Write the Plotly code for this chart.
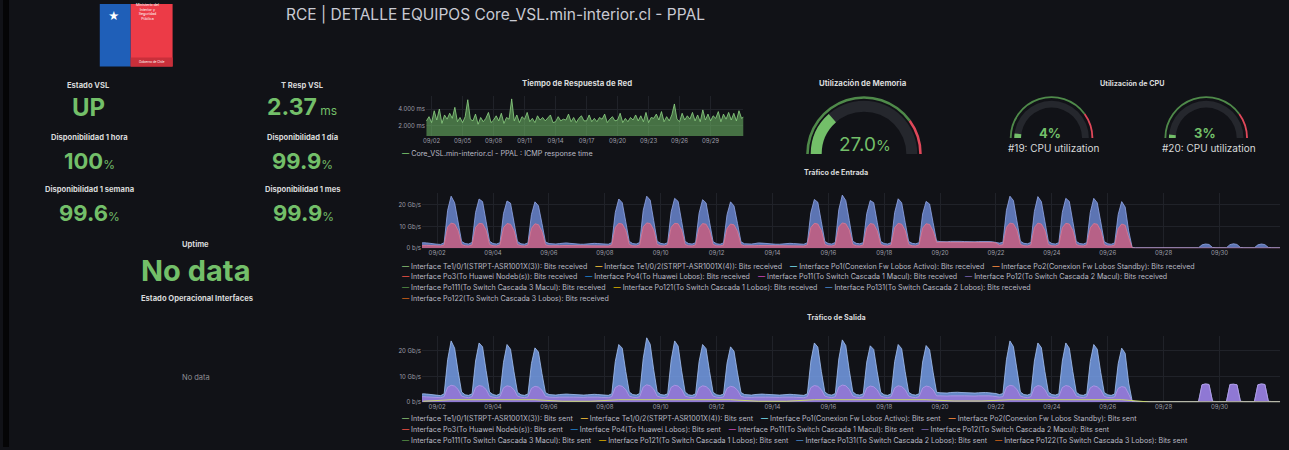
import pandas as pd
import plotly.graph_objects as go

W, H = 1289, 450
FONT = "Inter"
BG = "#111217"
GREEN = "#73BF69"
RED = "#E0485A"

# ------------------------------------------------------------------ data
stat_titles = ["Estado VSL", "T Resp VSL", "Disponibilidad 1 hora", "Disponibilidad 1 día",
               "Disponibilidad 1 semana", "Disponibilidad 1 mes", "Uptime"]
stat_values = ["UP", "2.37", "100", "99.9", "99.6", "99.9", "No data"]
stat_units = ["", "ms", "%", "%", "%", "%", ""]

mem_used_pct = 27.0
cpu_names = ["#19: CPU utilization", "#20: CPU utilization"]
cpu_pct = [4, 3]

# ICMP response time (ms), every 6 h from 09/01 12:00
resp_ms = [2.6, 3.1,
           2.4, 3.8, 2.7, 4.0,  2.3, 3.3, 2.8, 3.5,  2.9, 4.2, 2.5, 3.0,  2.4, 3.1, 5.1, 2.8,
           2.6, 3.4, 2.2, 3.0,  2.5, 2.9, 3.6, 2.4,  2.7, 3.2, 2.6, 3.5,  2.3, 3.0, 2.8, 5.2,
           2.6, 3.3, 2.4, 3.1,  2.8, 3.6, 2.5, 2.9,  2.4, 3.2, 2.7, 3.0,  2.6, 2.9, 3.3, 2.4,
           2.5, 3.1, 2.6, 2.8,  2.7, 3.4, 2.5, 3.0,  2.4, 2.9, 3.2, 2.6,  2.6, 3.3, 2.5, 2.9,
           2.5, 3.0, 2.8, 3.4,  2.4, 2.8, 3.1, 2.6,  2.7, 3.5, 2.4, 2.9,  2.5, 3.0, 2.7, 3.3,
           2.6, 3.2, 2.5, 3.6,  2.4, 3.0, 2.9, 3.4,  2.7, 3.7, 2.5, 3.1,  2.6, 3.3, 4.6, 2.8,
           2.5, 3.5, 2.7, 3.2,  2.8, 3.6, 2.6, 3.3,  2.5, 3.9, 2.7, 3.4,  2.6, 3.2, 2.9, 3.7,
           2.5, 3.4, 2.8, 3.6,  2.7, 3.5, 2.6, 3.8,
           2.9, 3.1]
resp_times = pd.date_range("2025-09-01 12:00", periods=len(resp_ms), freq="6h")

# Traffic (Gb/s), one row per day 09/01 .. 10/02, samples at 00,03,...,21 h
in_total_rows = [
    [2.0, 1.9, 1.9, 2.3, 2.6, 2.5, 2.2, 2.0],
    [1.9, 1.8, 2.6, 17.5, 24.0, 21.0, 12.0, 3.2],
    [2.2, 2.0, 2.7, 16.5, 22.7, 21.5, 12.5, 3.3],
    [2.2, 2.0, 2.6, 16.0, 21.8, 20.8, 12.0, 3.2],
    [2.1, 1.9, 2.5, 15.5, 21.4, 19.6, 11.5, 3.0],
    [2.2, 2.0, 2.0, 2.2, 2.4, 2.5, 2.3, 2.1],
    [2.0, 1.9, 1.9, 2.1, 2.3, 2.3, 2.2, 2.1],
    [2.0, 1.9, 2.6, 16.5, 22.7, 21.0, 12.2, 3.2],
    [2.2, 2.0, 2.7, 17.5, 24.0, 22.2, 12.8, 3.3],
    [2.3, 2.0, 2.6, 16.8, 23.0, 21.6, 12.4, 3.2],
    [2.2, 2.0, 2.6, 16.2, 22.4, 20.9, 12.0, 3.1],
    [2.1, 1.9, 2.5, 15.5, 21.4, 19.5, 11.4, 3.0],
    [2.1, 2.0, 2.0, 2.2, 2.5, 2.4, 2.2, 2.1],
    [2.0, 1.9, 1.9, 2.1, 2.3, 2.3, 2.2, 2.1],
    [2.0, 1.9, 2.6, 16.5, 22.5, 21.2, 12.2, 3.2],
    [2.2, 2.0, 2.7, 17.8, 24.5, 22.0, 12.8, 3.3],
    [2.3, 2.1, 2.6, 16.0, 22.0, 21.0, 12.0, 3.2],
    [2.2, 2.0, 2.6, 16.5, 22.8, 21.0, 12.0, 3.2],
    [2.3, 2.1, 2.6, 15.8, 21.6, 20.4, 11.8, 3.4],
    [3.1, 3.0, 3.0, 3.2, 3.3, 3.3, 3.2, 3.1],
    [3.0, 3.0, 3.0, 3.1, 3.2, 3.2, 3.1, 3.0],
    [2.8, 2.4, 2.8, 17.5, 24.0, 22.0, 12.6, 3.3],
    [2.3, 2.1, 2.7, 17.0, 23.8, 21.5, 12.5, 3.3],
    [2.2, 2.0, 2.6, 16.6, 23.0, 21.6, 12.4, 3.2],
    [2.2, 2.0, 2.6, 16.5, 23.0, 21.0, 12.2, 3.1],
    [2.1, 1.9, 2.5, 15.6, 21.5, 19.0, 8.0, 0.4],
    [0.3, 0.3, 0.3, 0.3, 0.3, 0.3, 0.3, 0.3],
    [0.3, 0.3, 0.3, 0.3, 0.3, 0.3, 0.3, 0.3],
    [0.3, 0.3, 0.3, 1.6, 2.0, 1.8, 0.4, 0.3],
    [0.3, 0.3, 0.3, 1.7, 2.1, 1.8, 0.4, 0.3],
    [0.3, 0.3, 0.3, 1.6, 2.0, 1.7, 0.4, 0.3],
    [0.3, 0.3, 0.3, 0.3, 0.3, 0.3, 0.3, 0.3],
]
in_lower_rows = [
    [1.2, 1.1, 1.1, 1.3, 1.5, 1.4, 1.3, 1.2],
    [1.1, 1.1, 1.6, 9.8, 11.6, 11.2, 8.2, 1.8],
    [1.2, 1.1, 1.6, 9.6, 11.5, 11.3, 8.4, 1.8],
    [1.2, 1.1, 1.6, 9.5, 11.4, 11.1, 8.2, 1.8],
    [1.2, 1.1, 1.5, 9.2, 11.3, 10.9, 7.8, 1.7],
    [1.2, 1.1, 1.1, 1.2, 1.3, 1.3, 1.2, 1.2],
    [1.1, 1.1, 1.1, 1.2, 1.3, 1.3, 1.2, 1.2],
    [1.1, 1.1, 1.6, 9.6, 11.5, 11.2, 8.3, 1.8],
    [1.2, 1.1, 1.6, 9.9, 11.7, 11.4, 8.5, 1.8],
    [1.2, 1.1, 1.6, 9.7, 11.5, 11.3, 8.4, 1.8],
    [1.2, 1.1, 1.6, 9.5, 11.4, 11.1, 8.2, 1.8],
    [1.2, 1.1, 1.5, 9.1, 11.2, 10.8, 7.8, 1.7],
    [1.2, 1.1, 1.1, 1.2, 1.3, 1.3, 1.2, 1.2],
    [1.1, 1.1, 1.1, 1.2, 1.3, 1.3, 1.2, 1.2],
    [1.1, 1.1, 1.6, 9.6, 11.5, 11.2, 8.3, 1.8],
    [1.2, 1.1, 1.6, 9.9, 11.7, 11.3, 8.5, 1.8],
    [1.2, 1.1, 1.6, 9.4, 11.4, 11.1, 8.1, 1.8],
    [1.2, 1.1, 1.6, 9.5, 11.5, 11.1, 8.2, 1.8],
    [1.2, 1.1, 1.6, 9.3, 11.3, 11.0, 8.0, 2.7],
    [2.8, 2.8, 2.8, 2.9, 3.0, 3.0, 2.9, 2.8],
    [2.8, 2.8, 2.8, 2.9, 2.9, 2.9, 2.8, 2.7],
    [2.5, 1.4, 1.7, 9.7, 11.6, 11.3, 8.4, 1.8],
    [1.2, 1.1, 1.6, 9.6, 11.6, 11.2, 8.3, 1.8],
    [1.2, 1.1, 1.6, 9.5, 11.5, 11.2, 8.3, 1.8],
    [1.2, 1.1, 1.6, 9.4, 11.4, 11.1, 8.2, 1.7],
    [1.1, 1.1, 1.5, 9.1, 11.2, 10.6, 5.0, 0.2],
    [0.1, 0.1, 0.1, 0.1, 0.1, 0.1, 0.1, 0.1],
    [0.1, 0.1, 0.1, 0.1, 0.1, 0.1, 0.1, 0.1],
    [0.1, 0.1, 0.1, 0.2, 0.3, 0.2, 0.1, 0.1],
    [0.1, 0.1, 0.1, 0.2, 0.3, 0.2, 0.1, 0.1],
    [0.1, 0.1, 0.1, 0.2, 0.3, 0.2, 0.1, 0.1],
    [0.1, 0.1, 0.1, 0.1, 0.1, 0.1, 0.1, 0.1],
]
out_total_rows = [
    [2.9, 2.8, 2.8, 3.0, 3.3, 3.2, 3.0, 2.9],
    [2.8, 2.6, 3.3, 16.5, 23.8, 21.0, 12.0, 4.0],
    [2.9, 2.7, 3.3, 16.0, 23.0, 21.5, 12.4, 4.0],
    [3.0, 2.7, 3.3, 15.5, 22.4, 20.6, 11.8, 3.9],
    [2.9, 2.7, 3.2, 15.0, 21.1, 19.5, 11.2, 3.8],
    [3.0, 2.8, 2.8, 3.0, 3.2, 3.2, 3.1, 3.0],
    [2.9, 2.8, 2.8, 2.9, 3.1, 3.1, 3.0, 2.9],
    [2.8, 2.7, 3.3, 15.8, 22.4, 21.0, 12.0, 4.0],
    [3.0, 2.8, 3.4, 17.0, 25.0, 22.5, 12.6, 4.1],
    [3.0, 2.8, 3.3, 16.4, 23.8, 21.8, 12.2, 4.0],
    [2.9, 2.7, 3.3, 15.8, 22.4, 20.8, 11.9, 3.9],
    [2.9, 2.7, 3.2, 15.2, 21.5, 19.8, 11.4, 3.8],
    [3.0, 2.8, 2.8, 3.0, 3.2, 3.2, 3.1, 3.0],
    [2.9, 2.8, 2.8, 2.9, 3.1, 3.1, 3.0, 2.9],
    [2.8, 2.7, 3.3, 16.0, 23.0, 21.4, 12.0, 4.0],
    [3.0, 2.8, 3.4, 16.8, 24.2, 22.0, 12.4, 4.1],
    [3.0, 2.8, 3.3, 15.6, 21.9, 20.5, 11.8, 3.9],
    [2.9, 2.7, 3.3, 15.8, 22.4, 20.8, 11.9, 3.9],
    [3.0, 2.8, 3.3, 15.6, 22.0, 20.4, 11.7, 3.9],
    [3.7, 3.6, 3.6, 3.8, 3.9, 3.9, 3.8, 3.7],
    [3.6, 3.6, 3.6, 3.7, 3.8, 3.8, 3.7, 3.6],
    [3.4, 3.0, 3.4, 16.5, 23.8, 21.6, 12.2, 4.0],
    [3.0, 2.8, 3.3, 16.0, 23.0, 21.2, 12.0, 4.0],
    [3.0, 2.8, 3.3, 16.0, 23.0, 21.0, 12.0, 3.9],
    [2.9, 2.7, 3.3, 15.8, 22.4, 20.6, 11.6, 3.8],
    [2.9, 2.7, 3.2, 15.0, 21.0, 19.0, 7.5, 0.5],
    [0.3, 0.3, 0.3, 0.3, 0.3, 0.3, 0.3, 0.3],
    [0.3, 0.3, 0.3, 0.3, 0.3, 0.3, 0.3, 0.3],
    [0.3, 0.3, 0.3, 6.8, 7.1, 6.9, 0.4, 0.3],
    [0.3, 0.3, 0.3, 6.9, 7.0, 6.8, 0.4, 0.3],
    [0.3, 0.3, 0.3, 6.8, 7.1, 6.9, 0.4, 0.3],
    [0.3, 0.3, 0.3, 0.3, 0.3, 0.3, 0.3, 0.3],
]
out_lower_rows = [
    [2.0, 1.9, 1.9, 2.0, 2.2, 2.1, 2.0, 2.0],
    [1.9, 1.8, 2.2, 5.8, 6.6, 6.3, 5.0, 2.4],
    [2.0, 1.8, 2.2, 5.7, 6.5, 6.2, 5.0, 2.4],
    [2.0, 1.8, 2.2, 5.6, 6.4, 6.1, 4.9, 2.4],
    [2.0, 1.8, 2.1, 5.4, 6.2, 5.9, 4.7, 2.3],
    [2.0, 1.9, 1.9, 2.0, 2.1, 2.1, 2.0, 2.0],
    [1.9, 1.9, 1.9, 2.0, 2.1, 2.1, 2.0, 1.9],
    [1.9, 1.8, 2.2, 5.7, 6.5, 6.2, 4.9, 2.4],
    [2.0, 1.8, 2.2, 5.9, 6.8, 6.4, 5.1, 2.4],
    [2.0, 1.8, 2.2, 5.8, 6.6, 6.3, 5.0, 2.4],
    [2.0, 1.8, 2.2, 5.6, 6.4, 6.1, 4.9, 2.4],
    [2.0, 1.8, 2.1, 5.4, 6.2, 5.9, 4.7, 2.3],
    [2.0, 1.9, 1.9, 2.0, 2.1, 2.1, 2.0, 2.0],
    [1.9, 1.9, 1.9, 2.0, 2.1, 2.1, 2.0, 1.9],
    [1.9, 1.8, 2.2, 5.7, 6.5, 6.2, 4.9, 2.4],
    [2.0, 1.8, 2.2, 5.9, 6.7, 6.4, 5.0, 2.4],
    [2.0, 1.8, 2.2, 5.5, 6.3, 6.0, 4.8, 2.4],
    [2.0, 1.8, 2.2, 5.6, 6.4, 6.1, 4.9, 2.4],
    [2.0, 1.8, 2.2, 5.5, 6.3, 6.0, 4.8, 2.5],
    [2.5, 2.4, 2.4, 2.5, 2.6, 2.6, 2.5, 2.5],
    [2.4, 2.4, 2.4, 2.5, 2.6, 2.6, 2.5, 2.4],
    [2.3, 2.0, 2.2, 5.8, 6.6, 6.3, 5.0, 2.4],
    [2.0, 1.8, 2.2, 5.7, 6.5, 6.2, 4.9, 2.4],
    [2.0, 1.8, 2.2, 5.7, 6.5, 6.2, 4.9, 2.4],
    [2.0, 1.8, 2.2, 5.6, 6.4, 6.0, 4.8, 2.3],
    [1.9, 1.8, 2.1, 5.4, 6.1, 5.8, 3.2, 0.3],
    [0.2, 0.2, 0.2, 0.2, 0.2, 0.2, 0.2, 0.2],
    [0.2, 0.2, 0.2, 0.2, 0.2, 0.2, 0.2, 0.2],
    [0.2, 0.2, 0.2, 6.8, 7.1, 6.9, 0.3, 0.2],
    [0.2, 0.2, 0.2, 6.9, 7.0, 6.8, 0.3, 0.2],
    [0.2, 0.2, 0.2, 6.8, 7.1, 6.9, 0.3, 0.2],
    [0.2, 0.2, 0.2, 0.2, 0.2, 0.2, 0.2, 0.2],
]
# small link on the bottom of "Salida", one value per day at noon
out_small_daily = [0.4, 1.0, 1.0, 1.0, 1.0, 0.4, 0.4, 1.0, 1.0, 1.0, 1.0, 1.0, 0.4, 0.4,
                   1.0, 1.0, 1.0, 1.0, 1.0, 0.5, 0.5, 1.0, 1.0, 1.0, 1.0, 1.0, 0.1, 0.1,
                   0.2, 0.2, 0.2, 0.1]

traffic_times = pd.date_range("2025-09-01 00:00", periods=32 * 8, freq="3h")
daily_noon = pd.date_range("2025-09-01 12:00", periods=32, freq="D")
traffic_ticks = pd.date_range("2025-09-02", "2025-09-30", freq="2D")
resp_ticks = pd.date_range("2025-09-02", "2025-09-29", freq="3D")

in_names = [
    "Interface Te1/0/1(STRPT-ASR1001X(3)): Bits received",
    "Interface Te1/0/2(STRPT-ASR1001X(4)): Bits received",
    "Interface Po1(Conexion Fw Lobos Activo): Bits received",
    "Interface Po2(Conexion Fw Lobos Standby): Bits received",
    "Interface Po3(To Huawei Nodeb(s)): Bits received",
    "Interface Po4(To Huawei Lobos): Bits received",
    "Interface Po11(To Switch Cascada 1 Macul): Bits received",
    "Interface Po12(To Switch Cascada 2 Macul): Bits received",
    "Interface Po111(To Switch Cascada 3 Macul): Bits received",
    "Interface Po121(To Switch Cascada 1 Lobos): Bits received",
    "Interface Po131(To Switch Cascada 2 Lobos): Bits received",
    "Interface Po122(To Switch Cascada 3 Lobos): Bits received",
]
out_names = [n.replace("Bits received", "Bits sent") for n in in_names]
legend_colors = ["#7EB26D", "#EAB839", "#6ED0E0", "#EF843C", "#E24D42", "#1F78C1",
                 "#BA43A9", "#705DA0", "#508642", "#CCA300", "#447EBC", "#C15C17"]
in_legend_rows = [[0, 1, 2, 3], [4, 5, 6, 7], [8, 9, 10], [11]]
out_legend_rows = [[0, 1, 2, 3], [4, 5, 6, 7], [8, 9, 10, 11]]


def flat(rows):
    return [v for r in rows for v in r]


# ------------------------------------------------------------------ helpers
def X(px):
    return px / W


def Y(py):
    return 1 - py / H


annotations = []


def txt(x, y, s, size, color="#d8d9da", xanchor="center", family=FONT):
    annotations.append(dict(x=X(x), y=Y(y), xref="paper", yref="paper", text=s,
                            showarrow=False, xanchor=xanchor, yanchor="middle",
                            font=dict(size=size, color=color, family=family)))


fig = go.Figure()

T_RANGE = ["2025-09-01 11:00", "2025-10-02 04:00"]

# ---- response time panel
fig.add_trace(go.Scatter(x=resp_times, y=resp_ms, mode="lines",
                         line=dict(color="#8fd685", width=0.8),
                         fill="tozeroy", fillcolor="rgba(115,191,105,0.55)",
                         xaxis="x", yaxis="y", showlegend=False))

# ---- entrada
fig.add_trace(go.Scatter(x=traffic_times, y=flat(in_total_rows), mode="lines",
                         line=dict(color="#93a8ea", width=0.8),
                         fill="tozeroy", fillcolor="rgba(108,138,214,0.82)",
                         xaxis="x2", yaxis="y2", showlegend=False))
fig.add_trace(go.Scatter(x=traffic_times, y=flat(in_lower_rows), mode="lines",
                         line=dict(color="#e07a92", width=0.8),
                         fill="tozeroy", fillcolor="rgba(206,92,124,0.80)",
                         xaxis="x2", yaxis="y2", showlegend=False))

# ---- salida
fig.add_trace(go.Scatter(x=traffic_times, y=flat(out_total_rows), mode="lines",
                         line=dict(color="#a4c2f4", width=0.8),
                         fill="tozeroy", fillcolor="rgba(118,158,232,0.85)",
                         xaxis="x3", yaxis="y3", showlegend=False))
fig.add_trace(go.Scatter(x=traffic_times, y=flat(out_lower_rows), mode="lines",
                         line=dict(color="#b59ae8", width=0.8),
                         fill="tozeroy", fillcolor="rgba(150,118,214,0.85)",
                         xaxis="x3", yaxis="y3", showlegend=False))
fig.add_trace(go.Scatter(x=daily_noon, y=out_small_daily, mode="lines",
                         line=dict(color="#c9d86a", width=1),
                         xaxis="x3", yaxis="y3", showlegend=False))


# ---- gauges
def gauge(cx, cy, r_ring, r_band, value, band_th):
    fig.add_trace(go.Indicator(
        mode="gauge", value=value,
        domain=dict(x=[X(cx - r_ring), X(cx + r_ring)], y=[Y(cy), Y(cy - r_ring)]),
        gauge=dict(shape="angular", axis=dict(range=[0, 100], visible=False),
                   bar=dict(color="rgba(0,0,0,0)", thickness=0),
                   bgcolor="rgba(0,0,0,0)", borderwidth=0,
                   steps=[dict(range=[0, 80], color="#4f8a4a", thickness=0.16),
                          dict(range=[80, 100], color=RED, thickness=0.16)])))
    fig.add_trace(go.Indicator(
        mode="gauge", value=value,
        domain=dict(x=[X(cx - r_band), X(cx + r_band)], y=[Y(cy), Y(cy - r_band)]),
        gauge=dict(shape="angular", axis=dict(range=[0, 100], visible=False),
                   bar=dict(color=GREEN, thickness=band_th),
                   bgcolor="rgba(0,0,0,0)", borderwidth=0,
                   steps=[dict(range=[0, 100], color="#25272d", thickness=band_th)])))


gauge(863, 155, 65, 55, mem_used_pct, 0.8)
gauge(1051, 139, 47, 39, cpu_pct[0], 0.7)
gauge(1206, 139, 47, 39, cpu_pct[1], 0.7)

# ------------------------------------------------------------------ text
txt(494, 15, "RCE | DETALLE EQUIPOS Core_VSL.min-interior.cl - PPAL", 15.5, "#c9cad3")

stat_pos = [(86, 86, 108), (300, 86, 108), (87, 138, 162), (300, 138, 162),
            (87, 191, 214), (301, 191, 214), (193, 246, 272)]
stat_sizes = [24, 23, 22, 22, 22, 22, 29]
for (sx, ty, vy), t, v, u, s in zip(stat_pos, stat_titles, stat_values, stat_units, stat_sizes):
    txt(sx, ty, "<b>" + t + "</b>", 7.6, "#d8d9da")
    unit = "" if not u else "<span style='font-size:%dpx'>%s%s</span>" % (int(s * 0.55), " " if u == "ms" else "", u)
    txt(sx, vy, "<b>" + v + "</b>" + unit, s, GREEN)

txt(194, 300, "<b>Estado Operacional Interfaces</b>", 7.6, "#d8d9da")
txt(193, 380, "No data", 7.5, "#8e8e95")

txt(575, 84, "<b>Tiempo de Respuesta de Red</b>", 7.8, "#d8d9da")
txt(862, 84, "<b>Utilización de Memoria</b>", 7.8, "#d8d9da")
txt(1132, 84, "<b>Utilización de CPU</b>", 7.2, "#d8d9da")
txt(835, 174, "<b>Tráfico de Entrada</b>", 7.2, "#d8d9da")
txt(835, 320, "<b>Tráfico de Salida</b>", 7.2, "#d8d9da")

txt(864, 145, "%.1f<span style='font-size:15px'>%%</span>" % mem_used_pct, 19, GREEN)
for cx, v, n in zip([1049, 1205], cpu_pct, cpu_names):
    txt(cx, 134, "<b>%d%%</b>" % v, 13, GREEN)
    txt(cx + 4, 149, n, 10, "#d8d9da")

txt(398, 155, "<span style='color:%s'><b>—</b></span> Core_VSL.min-interior.cl - PPAL : ICMP response time" % GREEN,
    7.2, "#b9bac4", xanchor="left")


def legend_rows(names, rows, y0, dy):
    for i, r in enumerate(rows):
        parts = ["<span style='color:%s'><b>—</b></span> %s" % (legend_colors[k], names[k]) for k in r]
        txt(398, y0 + i * dy, "    ".join(parts), 7.1, "#b9bac4", xanchor="left")


legend_rows(in_names, in_legend_rows, 268, 10.8)
legend_rows(out_names, out_legend_rows, 421, 11)

# logo text
txt(131, 12, "Ministerio del<br>Interior y<br>Seguridad<br>Pública", 3.6, "#ffffff", xanchor="left")
txt(111, 16, "★", 11, "#ffffff")
txt(149, 62, "Gobierno de Chile", 3, "#ffffff")

# ------------------------------------------------------------------ axes
ax_common = dict(showgrid=True, gridcolor="#202229", gridwidth=1, zeroline=False, showline=False,
                 ticks="", tickfont=dict(size=6, color="#9d9ea8", family=FONT))

layout_axes = dict(
    xaxis=dict(domain=[X(424), X(742)], anchor="y", type="date", range=T_RANGE,
               tickvals=resp_ticks, tickformat="%m/%d", **ax_common),
    yaxis=dict(domain=[Y(137), Y(97)], anchor="x", range=[0.8, 5.5], tickvals=[2, 4],
               ticktext=["2.000 ms", "4.000 ms"], **ax_common),
    xaxis2=dict(domain=[X(420), X(1280)], anchor="y2", type="date", range=T_RANGE,
                tickvals=traffic_ticks, tickformat="%m/%d", **ax_common),
    yaxis2=dict(domain=[Y(250), Y(194)], anchor="x2", range=[0, 25.6], tickvals=[0, 10, 20],
                ticktext=["0 b/s", "10 Gb/s", "20 Gb/s"], **ax_common),
    xaxis3=dict(domain=[X(420), X(1280)], anchor="y3", type="date", range=T_RANGE,
                tickvals=traffic_ticks, tickformat="%m/%d", **ax_common),
    yaxis3=dict(domain=[Y(405), Y(338)], anchor="x3", range=[0, 25.8], tickvals=[0, 10, 20],
                ticktext=["0 b/s", "10 Gb/s", "20 Gb/s"], **ax_common),
)

shapes = [
    dict(type="rect", xref="paper", yref="paper", x0=0, x1=X(6), y0=0, y1=1,
         fillcolor="#050506", line=dict(width=0), layer="below"),
    dict(type="rect", xref="paper", yref="paper", x0=X(97), x1=X(128), y0=Y(67), y1=Y(4),
         fillcolor="#1f5fb8", line=dict(width=0), layer="below"),
    dict(type="rect", xref="paper", yref="paper", x0=X(128), x1=X(170), y0=Y(67), y1=Y(4),
         fillcolor="#ec3b47", line=dict(width=0), layer="below"),
    dict(type="rect", xref="paper", yref="paper", x0=X(128), x1=X(170), y0=Y(67), y1=Y(58),
         fillcolor="#c92f3a", line=dict(width=0), layer="below"),
]

fig.update_layout(
    width=W, height=H, margin=dict(l=0, r=0, t=0, b=0),
    paper_bgcolor=BG, plot_bgcolor=BG, showlegend=False,
    font=dict(family=FONT, color="#d8d9da"),
    annotations=annotations, shapes=shapes, **layout_axes,
)

fig.write_html("out.html", include_plotlyjs=True, full_html=True,
               config={"displayModeBar": False},
               post_script="document.body.style.margin='0';document.body.style.background='%s';" % BG)
